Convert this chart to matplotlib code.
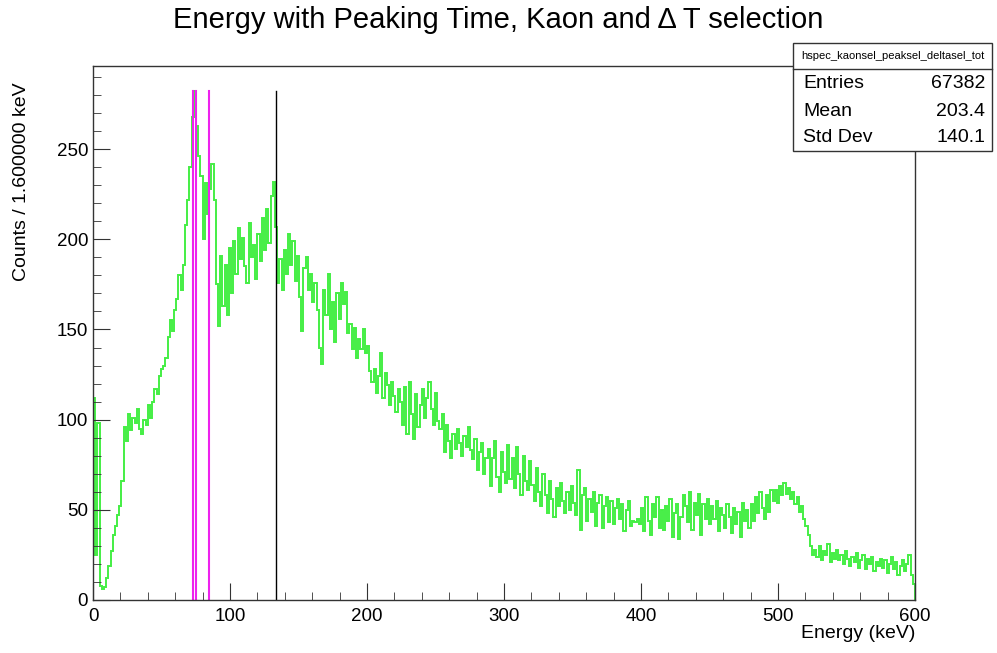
import numpy as np
import matplotlib
matplotlib.use('Agg')
import matplotlib.pyplot as plt
from matplotlib.patches import Rectangle
from matplotlib.lines import Line2D
from matplotlib.ticker import MultipleLocator

plt.rcParams['font.family'] = ['Liberation Sans', 'DejaVu Sans']

# histogram: 375 bins of 1.6 keV from 0 to 600 keV
bin_width = 1.6
counts = [
    112, 25, 98, 8, 6, 7, 12, 19, 27, 36,
    41, 47, 52, 66, 96, 88, 103, 94, 101, 98,
    106, 95, 92, 100, 97, 108, 101, 110, 117, 114,
    124, 128, 130, 134, 146, 155, 149, 161, 167, 180,
    172, 186, 208, 222, 240, 268, 282, 263, 246, 235,
    200, 231, 214, 228, 242, 222, 175, 152, 191, 163,
    186, 158, 195, 170, 199, 181, 206, 189, 201, 185,
    176, 209, 190, 197, 178, 203, 188, 212, 194, 217,
    198, 224, 232, 207, 176, 189, 172, 194, 181, 203,
    186, 199, 177, 191, 168, 149, 184, 190, 172, 181,
    165, 176, 161, 140, 131, 172, 158, 181, 150, 165,
    143, 170, 156, 176, 164, 171, 148, 153, 139, 151,
    134, 145, 139, 150, 137, 141, 127, 121, 128, 115,
    124, 137, 112, 126, 119, 108, 121, 113, 104, 117,
    110, 97, 118, 92, 121, 103, 89, 114, 96, 108,
    117, 101, 112, 121, 106, 97, 115, 99, 95, 103,
    82, 97, 88, 79, 92, 84, 95, 87, 80, 91,
    85, 96, 83, 78, 89, 72, 82, 87, 70, 79,
    84, 63, 79, 88, 68, 60, 82, 71, 65, 86,
    67, 79, 62, 85, 70, 58, 80, 66, 61, 77,
    64, 55, 73, 60, 52, 70, 58, 48, 66, 56,
    46, 62, 52, 65, 55, 48, 60, 50, 63, 54,
    47, 72, 39, 58, 62, 44, 56, 49, 60, 41,
    54, 58, 40, 52, 57, 43, 55, 42, 51, 56,
    45, 53, 38, 50, 55, 41, 44, 43, 45, 42,
    51, 38, 57, 44, 36, 53, 46, 57, 40, 50,
    39, 52, 44, 56, 35, 48, 53, 34, 46, 58,
    52, 43, 60, 39, 54, 47, 59, 36, 53, 45,
    56, 42, 52, 45, 55, 38, 51, 47, 40, 53,
    46, 37, 51, 42, 49, 35, 54, 44, 50, 40,
    53, 44, 57, 48, 60, 51, 45, 58, 49, 61,
    55, 61, 54, 63, 58, 65, 59, 62, 56, 60,
    53, 57, 49, 52, 45, 41, 36, 30, 25, 28,
    24, 30, 22, 27, 25, 31, 21, 26, 23, 28,
    22, 25, 20, 27, 23, 19, 24, 21, 26, 18,
    22, 25, 17, 23, 20, 24, 16, 21, 19, 23,
    18, 22, 15, 20, 24, 17, 21, 14, 19, 22,
    16, 20, 25, 14, 9,
]

# marker lines (keV)
magenta_lines = [72.8, 75.0, 84.9]
black_lines = [133.5]

stats_name = 'hspec_kaonsel_peaksel_deltasel_tot'
stats_rows = [('Entries', '67382'), ('Mean', '203.4'), ('Std Dev', '140.1')]

W, H = 997, 653
fig = plt.figure(figsize=(W / 100, H / 100), dpi=100)
ax = fig.add_axes([93 / W, 1 - 600 / H, (915 - 93) / W, (600 - 66) / H])

edges = np.arange(len(counts) + 1) * bin_width
ax.stairs(counts, edges, color='#44ee44', linewidth=1.4)

ymax = max(counts)
for e in magenta_lines:
    ax.plot([e, e], [0, ymax], color='#ee22ee', linewidth=1.5)
for e in black_lines:
    ax.plot([e, e], [0, ymax], color='black', linewidth=1.0)

ax.set_xlim(0, 600)
ax.set_ylim(0, ymax * 1.05)
ax.xaxis.set_major_locator(MultipleLocator(100))
ax.xaxis.set_minor_locator(MultipleLocator(20))
ax.yaxis.set_major_locator(MultipleLocator(50))
ax.yaxis.set_minor_locator(MultipleLocator(10))
ax.tick_params(which='both', direction='in', top=False, right=False,
               labelsize=13.5, color='#333333')
ax.tick_params(which='major', length=12)
ax.tick_params(which='minor', length=6)
ax.tick_params(axis='x', pad=6)
for s in ax.spines.values():
    s.set_color('#333333')
    s.set_linewidth(1.0)

fig.text(498 / W, 1 - 20 / H, 'Energy with Peaking Time, Kaon and \u0394 T selection',
         ha='center', va='center', fontsize=21)
fig.text(915 / W, 1 - 634 / H, 'Energy (keV)', ha='right', va='center', fontsize=14)
fig.text(22 / W, 1 - 82 / H, 'Counts / 1.600000 keV', ha='center', va='top',
         rotation=90, fontsize=14)

# stats box
bx0, bx1, by0, by1 = 793, 992, 43, 151
fig.patches.append(Rectangle((bx0 / W, 1 - by1 / H), (bx1 - bx0) / W, (by1 - by0) / H,
                             transform=fig.transFigure, facecolor='white',
                             edgecolor='#333333', linewidth=1.0, zorder=5))
fig.lines.append(Line2D([bx0 / W, bx1 / W], [1 - 69 / H, 1 - 69 / H],
                        transform=fig.transFigure, color='#333333', linewidth=1.0, zorder=6))
fig.text((bx0 + bx1) / 2 / W, 1 - 56 / H, stats_name, ha='center', va='center',
         fontsize=8, zorder=7)
for i, (k, v) in enumerate(stats_rows):
    yy = 1 - (84 + 27 * i) / H
    fig.text(803 / W, yy, k, ha='left', va='center', fontsize=14, zorder=7)
    fig.text(985 / W, yy, v, ha='right', va='center', fontsize=14, zorder=7)

fig.savefig('out.png', dpi=100)
